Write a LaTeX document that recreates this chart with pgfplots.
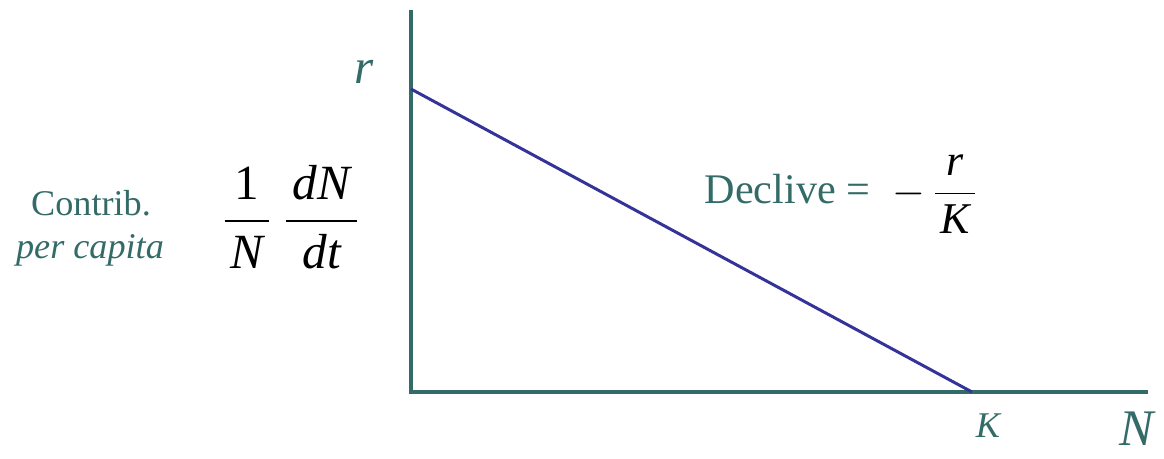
\documentclass[border=0pt]{standalone}
\usepackage{pgfplots}
\pgfplotsset{compat=1.18}
\usepackage{fontspec}
\setmainfont{Liberation Serif}
\definecolor{teal1}{HTML}{336B68}
\definecolor{blue1}{HTML}{333399}
\newcommand{\fr}[3]{\ensuremath{\displaystyle\frac{\mbox{\hspace{#3}#1\hspace{#3}}}{\mbox{\hspace{#3}#2\hspace{#3}}}}}
\begin{document}
\begin{tikzpicture}
\begin{axis}[
  scale only axis, width=11.64cm, height=4.58cm,
  xmin=0, xmax=1164, ymin=0, ymax=458,
  hide axis, clip=false,
]
% axes
\addplot[teal1, line width=1.15pt] coordinates {(411,448) (411,66) (1148,66)};
% per capita growth line
\addplot[blue1, line width=0.85pt] coordinates {(411,369) (972,66)};
% labels
\node[teal1, font=\fontsize{14}{16}\selectfont\itshape, inner sep=0pt] at (axis cs:364,386) {r};
\node[teal1, font=\fontsize{10.3}{13}\selectfont, anchor=base, inner sep=0pt] at (axis cs:91,243) {Contrib.};
\node[teal1, font=\fontsize{10.3}{13}\selectfont\itshape, anchor=base, inner sep=0pt] at (axis cs:90,200) {per capita};
\node[font=\fontsize{14}{16}\selectfont, inner sep=0pt] at (axis cs:291,241) {\fr{1}{\itshape N}{1.6pt}\hspace{2.5pt}\fr{\itshape dN}{\itshape dt}{2pt}};
\node[teal1, font=\fontsize{12}{14}\selectfont, anchor=base west, inner sep=0pt] at (axis cs:704,255) {Declive =};
\node[font=\fontsize{12.5}{15}\selectfont, inner sep=0pt] at (axis cs:936,264) {$-$\hspace{1.5pt}\fr{\itshape r}{\itshape K}{1.5pt}};
\node[teal1, font=\fontsize{10.3}{12}\selectfont\itshape, inner sep=0pt] at (axis cs:988,32) {K};
\node[teal1, font=\fontsize{14.6}{18}\selectfont\itshape, anchor=base east, inner sep=0pt] at (axis cs:1154,13) {N};
\end{axis}
\pgfresetboundingbox
\useasboundingbox (0,0) rectangle (11.64cm,4.58cm);
\end{tikzpicture}
\end{document}
